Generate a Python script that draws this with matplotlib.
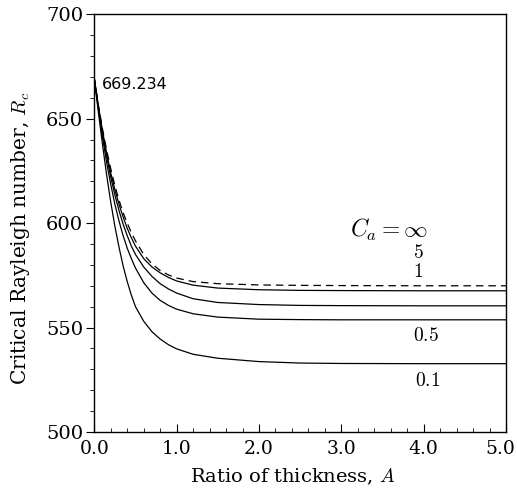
import numpy as np
import matplotlib
matplotlib.use("Agg")
import matplotlib.pyplot as plt
import matplotlib.transforms as mtransforms
from matplotlib.ticker import MultipleLocator, FuncFormatter

plt.rcParams['mathtext.fontset'] = 'cm'
plt.rcParams['font.family'] = ['DejaVu Serif']

# ratio of thickness A
A = [0.0, 0.05, 0.1, 0.15, 0.2, 0.25, 0.3, 0.35, 0.4, 0.45, 0.5, 0.6, 0.7, 0.8, 0.9,
     1.0, 1.2, 1.5, 2.0, 2.5, 3.0, 4.0, 5.0]

# critical Rayleigh number for each C_a
Rc_inf = [669.2, 656.5, 645, 635, 626, 618, 611, 605, 600, 595.5, 591.5, 585, 580.5, 577.3, 575.2,
          573.7, 572.0, 571.0, 570.4, 570.2, 570.1, 570.0, 570.0]
Rc_5   = [669.2, 656, 644, 633.5, 624, 616, 609, 603, 597.5, 593, 589, 583, 579, 576.2, 574,
          572.3, 570.3, 568.9, 568.1, 567.8, 567.7, 567.6, 567.6]
Rc_1   = [669.2, 655.5, 643, 632, 622, 613.5, 606, 599.5, 594, 589, 585, 579, 574.5, 571, 568.5,
          566.5, 563.8, 562.0, 561.0, 560.6, 560.5, 560.4, 560.4]
Rc_05  = [669.2, 654.5, 641, 629, 618.5, 609, 601, 594, 588, 583, 578.5, 571.5, 566.5, 563, 560.6,
          558.8, 556.6, 555.0, 554.0, 553.8, 553.7, 553.7, 553.7]
Rc_01  = [669.2, 653, 637.5, 623, 610, 598.5, 588.5, 579.5, 572, 565.5, 560, 553, 548, 544.5, 541.8,
          539.8, 537.2, 535.3, 533.7, 533.0, 532.8, 532.7, 532.7]

curve_labels = ['5', '1', '0.5', '0.1']
label_xy = [(3.93, 585.6), (3.93, 576.4), (4.03, 546.1), (4.05, 524.5)]

fig = plt.figure(figsize=(5.17, 4.92), dpi=100)
ax = fig.add_axes([0.1824, 0.122, 0.7963, 0.849])

ax.plot(A, Rc_inf, color='black', lw=0.9, ls=(0, (6, 4)))
for ys in (Rc_5, Rc_1, Rc_05, Rc_01):
    ax.plot(A, ys, color='black', lw=0.9)

ax.set_xlim(0, 5)
ax.set_ylim(500, 700)
ax.xaxis.set_major_locator(MultipleLocator(1.0))
ax.xaxis.set_minor_locator(MultipleLocator(0.2))
ax.yaxis.set_major_locator(MultipleLocator(50))
ax.yaxis.set_minor_locator(MultipleLocator(10))
ax.xaxis.set_major_formatter(FuncFormatter(lambda v, p: '%.1f' % v))
ax.yaxis.set_major_formatter(FuncFormatter(lambda v, p: '%d' % v))
ax.tick_params(axis='x', which='major', direction='in', length=6, labelsize=13.5, pad=6)
ax.tick_params(axis='x', which='minor', direction='in', length=3)
ax.tick_params(axis='y', which='major', direction='out', length=6, labelsize=14, pad=2)
ax.tick_params(axis='y', which='minor', direction='out', length=3)
for s in ax.spines.values():
    s.set_linewidth(1.0)

# nudge the last x tick label so it stays inside the picture
fig.canvas.draw()
last = [t for t in ax.get_xticklabels() if t.get_text() == '5.0']
if last:
    last[0].set_transform(last[0].get_transform() +
                          mtransforms.ScaledTranslation(-4 / 72, 0, fig.dpi_scale_trans))

ax.set_xlabel(r'Ratio of thickness, $A$', fontsize=14)
ax.set_ylabel(r'Critical Rayleigh number, $R_c$', fontsize=14.5)
ax.xaxis.set_label_coords(0.481, -0.082)
ax.yaxis.set_label_coords(-0.152, 0.464)

ax.text(0.09, 666.2, '669.234', fontsize=11.5, family=['DejaVu Sans'], va='center', ha='left')
ax.text(3.58, 596.8, r'$C_a=\infty$', fontsize=17, va='center', ha='center')
for lab, (lx, ly) in zip(curve_labels, label_xy):
    ax.text(lx, ly, r'$\mathrm{%s}$' % lab, fontsize=14, va='center', ha='center')

fig.savefig('out.png', dpi=100)
